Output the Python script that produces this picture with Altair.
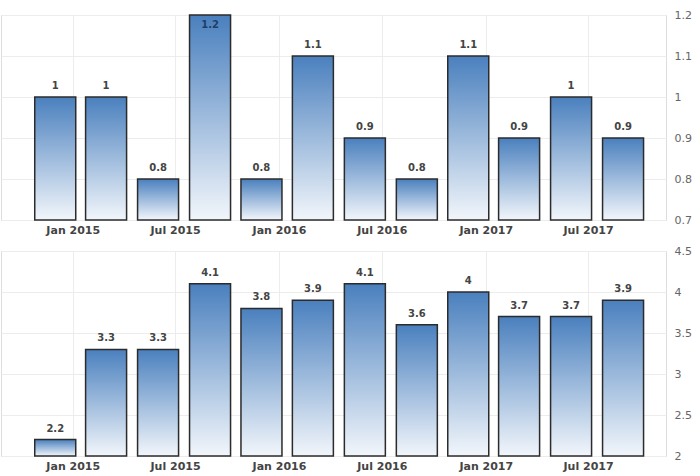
import altair as alt
import pandas as pd

dates = ["2014-12-01T00:00:00", "2015-03-01T00:00:00", "2015-06-01T00:00:00", "2015-09-01T00:00:00",
         "2015-12-01T00:00:00", "2016-03-01T00:00:00", "2016-06-01T00:00:00", "2016-09-01T00:00:00",
         "2016-12-01T00:00:00", "2017-03-01T00:00:00", "2017-06-01T00:00:00", "2017-09-01T00:00:00"]
top_values = [1.0, 1.0, 0.8, 1.2, 0.8, 1.1, 0.9, 0.8, 1.1, 0.9, 1.0, 0.9]
bottom_values = [2.2, 3.3, 3.3, 4.1, 3.8, 3.9, 4.1, 3.6, 4.0, 3.7, 3.7, 3.9]
tick_dates = [(2015, 1), (2015, 7), (2016, 1), (2016, 7), (2017, 1), (2017, 7)]
top_domain = [0.7, 1.2]
bottom_domain = [2.0, 4.5]

W, H = 665, 205

gradient = alt.Gradient(
    gradient="linear",
    stops=[alt.GradientStop(color="#f2f6fb", offset=0),
           alt.GradientStop(color="#4a80be", offset=1)],
    x1=0, x2=0, y1=1, y2=0,
)

x_domain = [alt.DateTime(year=2014, month=8, date=27), alt.DateTime(year=2017, month=11, date=16)]
x_ticks = [alt.DateTime(year=y, month=m, date=1) for y, m in tick_dates]


def panel(values, domain, fmt):
    df = pd.DataFrame({"date": dates, "value": values})
    x = alt.X("date:T", scale=alt.Scale(domain=x_domain, nice=False, padding=0),
              axis=alt.Axis(values=x_ticks, format="%b %Y", title=None, domain=False, ticks=False,
                            labelFontSize=11, labelFontWeight="bold", labelColor="#444",
                            labelPadding=4, gridColor="#ececec", labelFont="DejaVu Sans"))
    y = alt.Y("value:Q", scale=alt.Scale(domain=domain, zero=False, nice=False),
              axis=alt.Axis(orient="right", title=None, domain=False, ticks=False, tickCount=5,
                            format=fmt, labelFontSize=11, labelColor="#666", labelPadding=8,
                            gridColor="#ececec", labelFont="DejaVu Sans"))
    base = alt.Chart(df).encode(x=x)
    bars = base.mark_bar(size=41, color=gradient, stroke="#2b2b2b", strokeWidth=1.5).encode(
        y=y, y2=alt.datum(domain[0]))
    above = base.transform_filter(f"datum.value < {domain[1]}").mark_text(
        baseline="bottom", dy=-6, fontSize=10, fontWeight="bold", color="#444", font="DejaVu Sans"
    ).encode(y="value:Q", text=alt.Text("value:Q", format=".1~f"))
    inside = base.transform_filter(f"datum.value >= {domain[1]}").mark_text(
        baseline="top", dy=5, fontSize=10, fontWeight="bold", color="#1f3f66", font="DejaVu Sans"
    ).encode(y="value:Q", text=alt.Text("value:Q", format=".1~f"))
    return alt.layer(bars, above, inside).properties(width=W, height=H)


top = panel(top_values, top_domain, ".1~f")
bottom = panel(bottom_values, bottom_domain, ".1~f")

chart = alt.vconcat(top, bottom, spacing=8).properties(
    padding={"left": 0, "top": 8, "right": 5, "bottom": 2}
).configure_view(stroke=None).configure(background="white")

chart.save("out.html", embed_options={"renderer": "svg", "actions": False})
